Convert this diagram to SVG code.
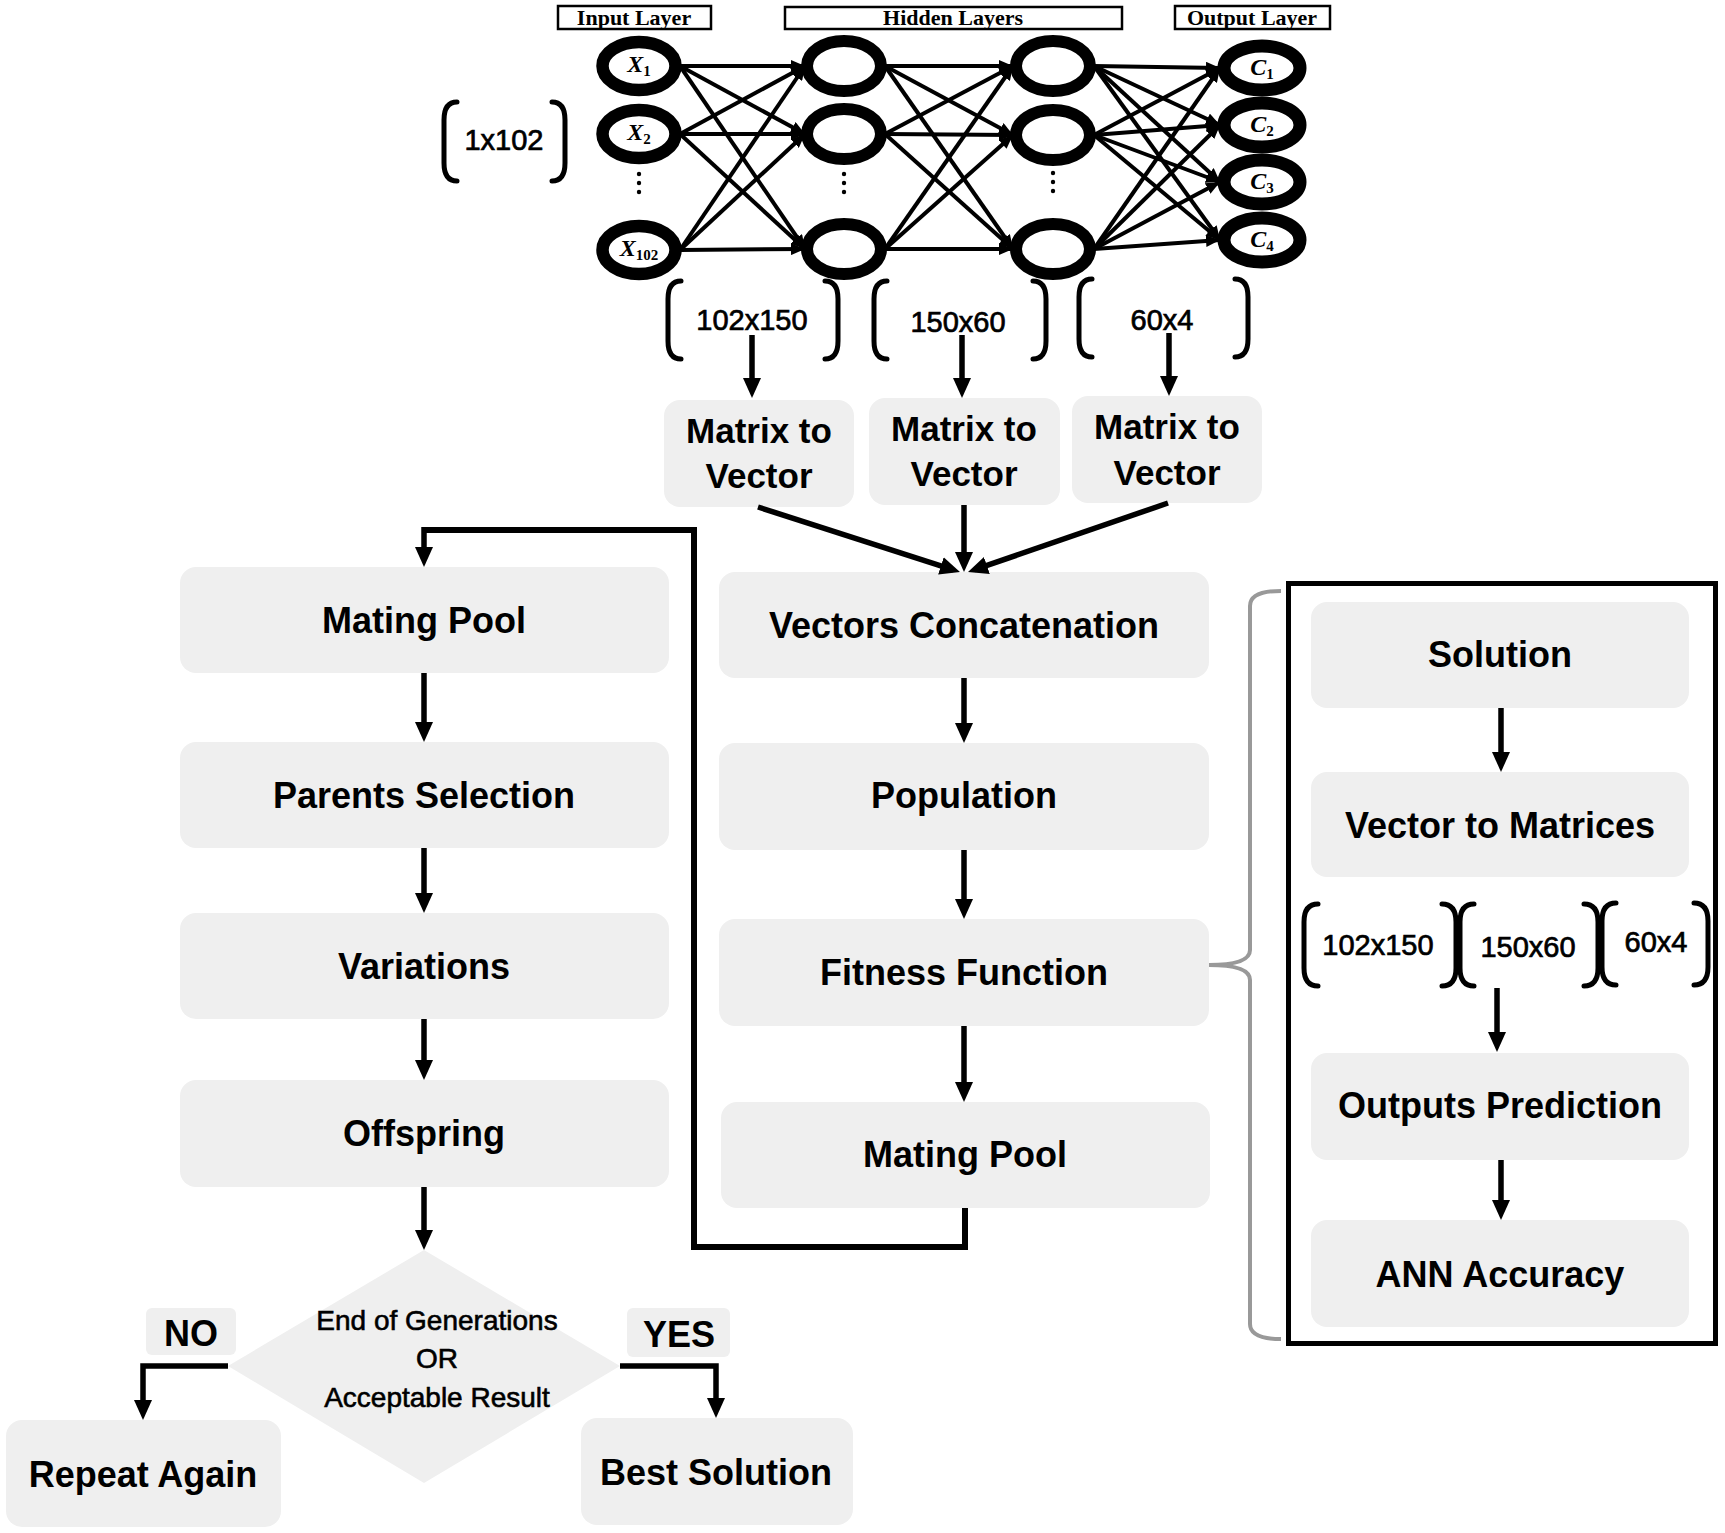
<svg xmlns="http://www.w3.org/2000/svg" width="1725" height="1533" viewBox="0 0 1725 1533">
<style>
.box{fill:#efefef;}
.lbl{font-family:"Liberation Sans",Arial,sans-serif;font-weight:bold;font-size:36px;fill:#000;text-anchor:middle;}
.lbl35{font-family:"Liberation Sans",Arial,sans-serif;font-weight:bold;font-size:35px;fill:#000;text-anchor:middle;}
.dim{font-family:"Liberation Sans",Arial,sans-serif;font-size:29px;fill:#000;stroke:#000;stroke-width:0.7;text-anchor:middle;}
.dia{font-family:"Liberation Sans",Arial,sans-serif;font-size:28px;fill:#000;stroke:#000;stroke-width:0.6;text-anchor:middle;}
.layer{font-family:"Liberation Serif","Times New Roman",serif;font-weight:bold;font-size:22px;fill:#000;text-anchor:middle;}
.lrect{fill:#fff;stroke:#000;stroke-width:2.5;}
.var{font-family:"Liberation Serif","Times New Roman",serif;font-style:italic;font-weight:bold;font-size:24px;fill:#000;text-anchor:middle;}
.sub{font-style:normal;font-size:15px;}
.nin{fill:#fff;stroke:#000;stroke-width:12.5;}
.nhid{fill:#fff;stroke:#000;stroke-width:12;}
.nout{fill:#fff;stroke:#000;stroke-width:13;}
.nn{stroke:#000;stroke-width:4;fill:none;marker-end:url(#sa);}
.flow{stroke:#000;stroke-width:5.5;fill:none;marker-end:url(#ah);}
.loop{stroke:#000;stroke-width:6;fill:none;}
.br{stroke:#000;stroke-width:5;fill:none;stroke-linecap:round;}
.dot{fill:#000;}
</style>
<defs>
<marker id="ah" markerUnits="userSpaceOnUse" markerWidth="20" markerHeight="20" viewBox="0 0 20 20" refX="13" refY="10" orient="auto"><path d="M0,1 L20,10 L0,19 z" fill="#000"/></marker>
<marker id="sa" markerUnits="userSpaceOnUse" markerWidth="14" markerHeight="12" viewBox="0 0 14 12" refX="14" refY="6" orient="auto"><path d="M0,0 L14,6 L0,12 z" fill="#000"/></marker>
</defs>
<rect width="1725" height="1533" fill="#fff"/>

<!-- layer titles -->
<g id="title-input"><rect class="lrect" x="558" y="6" width="153" height="23"/><text class="layer" x="634" y="25">Input Layer</text></g>
<g id="title-hidden"><rect class="lrect" x="785" y="7" width="337" height="22"/><text class="layer" x="953" y="25">Hidden Layers</text></g>
<g id="title-output"><rect class="lrect" x="1175" y="6" width="155" height="23"/><text class="layer" x="1252" y="25">Output Layer</text></g>

<!-- NN connectors -->
<g id="nn-connectors">
<line class="nn" x1="680" y1="66" x2="805" y2="66"/>
<line class="nn" x1="680" y1="66" x2="805" y2="134"/>
<line class="nn" x1="680" y1="66" x2="805" y2="249"/>
<line class="nn" x1="680" y1="134" x2="805" y2="66"/>
<line class="nn" x1="680" y1="134" x2="805" y2="134"/>
<line class="nn" x1="680" y1="134" x2="805" y2="249"/>
<line class="nn" x1="680" y1="250" x2="805" y2="66"/>
<line class="nn" x1="680" y1="250" x2="805" y2="134"/>
<line class="nn" x1="680" y1="250" x2="805" y2="249"/>
<line class="nn" x1="885" y1="66" x2="1013" y2="66"/>
<line class="nn" x1="885" y1="66" x2="1013" y2="135"/>
<line class="nn" x1="885" y1="66" x2="1013" y2="249"/>
<line class="nn" x1="885" y1="134" x2="1013" y2="66"/>
<line class="nn" x1="885" y1="134" x2="1013" y2="135"/>
<line class="nn" x1="885" y1="134" x2="1013" y2="249"/>
<line class="nn" x1="885" y1="249" x2="1013" y2="66"/>
<line class="nn" x1="885" y1="249" x2="1013" y2="135"/>
<line class="nn" x1="885" y1="249" x2="1013" y2="249"/>
<line class="nn" x1="1094" y1="66" x2="1220" y2="68"/>
<line class="nn" x1="1094" y1="66" x2="1220" y2="125"/>
<line class="nn" x1="1094" y1="66" x2="1220" y2="182"/>
<line class="nn" x1="1094" y1="66" x2="1220" y2="240"/>
<line class="nn" x1="1094" y1="135" x2="1220" y2="68"/>
<line class="nn" x1="1094" y1="135" x2="1220" y2="125"/>
<line class="nn" x1="1094" y1="135" x2="1220" y2="182"/>
<line class="nn" x1="1094" y1="135" x2="1220" y2="240"/>
<line class="nn" x1="1094" y1="249" x2="1220" y2="68"/>
<line class="nn" x1="1094" y1="249" x2="1220" y2="125"/>
<line class="nn" x1="1094" y1="249" x2="1220" y2="182"/>
<line class="nn" x1="1094" y1="249" x2="1220" y2="240"/>
</g>

<!-- NN nodes -->
<g id="node-x1"><ellipse class="nin" cx="639" cy="66" rx="36.5" ry="24"/><text class="var" x="639" y="72">X<tspan class="sub" dy="4">1</tspan></text></g>
<g id="node-x2"><ellipse class="nin" cx="639" cy="134" rx="36.5" ry="24"/><text class="var" x="639" y="140">X<tspan class="sub" dy="4">2</tspan></text></g>
<g id="node-x102"><ellipse class="nin" cx="639" cy="250" rx="36.5" ry="24"/><text class="var" x="639" y="256">X<tspan class="sub" dy="4">102</tspan></text></g>
<g id="input-dots"><circle class="dot" cx="639" cy="174" r="2.2"/><circle class="dot" cx="639" cy="183" r="2.2"/><circle class="dot" cx="639" cy="192" r="2.2"/></g>

<g id="node-h1a"><ellipse class="nhid" cx="844" cy="66" rx="37" ry="25"/></g>
<g id="node-h1b"><ellipse class="nhid" cx="844" cy="134" rx="37" ry="25"/></g>
<g id="node-h1c"><ellipse class="nhid" cx="844" cy="249" rx="37" ry="25"/></g>
<g id="h1-dots"><circle class="dot" cx="844" cy="174" r="2.2"/><circle class="dot" cx="844" cy="183" r="2.2"/><circle class="dot" cx="844" cy="192" r="2.2"/></g>

<g id="node-h2a"><ellipse class="nhid" cx="1053" cy="66" rx="37" ry="25"/></g>
<g id="node-h2b"><ellipse class="nhid" cx="1053" cy="135" rx="37" ry="25"/></g>
<g id="node-h2c"><ellipse class="nhid" cx="1053" cy="249" rx="37" ry="25"/></g>
<g id="h2-dots"><circle class="dot" cx="1053" cy="173" r="2.2"/><circle class="dot" cx="1053" cy="182" r="2.2"/><circle class="dot" cx="1053" cy="191" r="2.2"/></g>

<g id="node-c1"><ellipse class="nout" cx="1262" cy="68" rx="38" ry="22"/><text class="var" x="1262" y="75" font-size="21">C<tspan class="sub" font-size="14" dy="4">1</tspan></text></g>
<g id="node-c2"><ellipse class="nout" cx="1262" cy="125" rx="38" ry="22"/><text class="var" x="1262" y="132" font-size="21">C<tspan class="sub" font-size="14" dy="4">2</tspan></text></g>
<g id="node-c3"><ellipse class="nout" cx="1262" cy="182" rx="38" ry="22"/><text class="var" x="1262" y="189" font-size="21">C<tspan class="sub" font-size="14" dy="4">3</tspan></text></g>
<g id="node-c4"><ellipse class="nout" cx="1262" cy="240" rx="38" ry="22"/><text class="var" x="1262" y="247" font-size="21">C<tspan class="sub" font-size="14" dy="4">4</tspan></text></g>

<!-- 1x102 -->
<g id="dim-input">
<path class="br" d="M457,102 Q444,102 444,120 L444,163 Q444,181 457,181"/>
<path class="br" d="M552,102 Q565,102 565,120 L565,163 Q565,181 552,181"/>
<text class="dim" x="504" y="150" font-size="28">1x102</text>
</g>

<!-- weight matrices -->
<g id="dim-w1">
<path class="br" d="M681,281 Q668,281 668,299 L668,341 Q668,359 681,359"/>
<path class="br" d="M825,281 Q838,281 838,299 L838,341 Q838,359 825,359"/>
<text class="dim" x="752" y="330">102x150</text>
</g>
<g id="dim-w2">
<path class="br" d="M887,281 Q874,281 874,299 L874,341 Q874,359 887,359"/>
<path class="br" d="M1033,281 Q1046,281 1046,299 L1046,341 Q1046,359 1033,359"/>
<text class="dim" x="958" y="332">150x60</text>
</g>
<g id="dim-w3">
<path class="br" d="M1092,279 Q1079,279 1079,297 L1079,339 Q1079,357 1092,357"/>
<path class="br" d="M1235,279 Q1248,279 1248,297 L1248,339 Q1248,357 1235,357"/>
<text class="dim" x="1162" y="330">60x4</text>
</g>

<!-- Matrix to Vector -->
<g id="m2v-1"><rect class="box" x="664" y="400" width="190" height="107" rx="16"/><text class="lbl35" x="759" y="443">Matrix to</text><text class="lbl35" x="759" y="488">Vector</text></g>
<g id="m2v-2"><rect class="box" x="869" y="398" width="191" height="107" rx="16"/><text class="lbl35" x="964" y="441">Matrix to</text><text class="lbl35" x="964" y="486">Vector</text></g>
<g id="m2v-3"><rect class="box" x="1072" y="396" width="190" height="107" rx="16"/><text class="lbl35" x="1167" y="439">Matrix to</text><text class="lbl35" x="1167" y="485">Vector</text></g>

<!-- center column -->
<g id="vectors-concat"><rect class="box" x="719" y="572" width="490" height="106" rx="16"/><text class="lbl" x="964" y="638">Vectors Concatenation</text></g>
<g id="population"><rect class="box" x="719" y="743" width="490" height="107" rx="16"/><text class="lbl" x="964" y="808">Population</text></g>
<g id="fitness"><rect class="box" x="719" y="919" width="490" height="107" rx="16"/><text class="lbl" x="964" y="985">Fitness Function</text></g>
<g id="mating-pool-2"><rect class="box" x="721" y="1102" width="489" height="106" rx="16"/><text class="lbl" x="965" y="1167">Mating Pool</text></g>

<!-- left column -->
<g id="mating-pool-1"><rect class="box" x="180" y="567" width="489" height="106" rx="16"/><text class="lbl" x="424" y="633">Mating Pool</text></g>
<g id="parents"><rect class="box" x="180" y="742" width="489" height="106" rx="16"/><text class="lbl" x="424" y="808">Parents Selection</text></g>
<g id="variations"><rect class="box" x="180" y="913" width="489" height="106" rx="16"/><text class="lbl" x="424" y="979">Variations</text></g>
<g id="offspring"><rect class="box" x="180" y="1080" width="489" height="107" rx="16"/><text class="lbl" x="424" y="1146">Offspring</text></g>

<!-- decision -->
<g id="decision"><path class="box" d="M424,1250 L620,1366 L424,1483 L228,1366 z"/>
<text class="dia" x="437" y="1330">End of Generations</text>
<text class="dia" x="437" y="1368">OR</text>
<text class="dia" x="437" y="1407">Acceptable Result</text></g>
<g id="label-no"><rect class="box" x="146" y="1308" width="90" height="47" rx="6"/><text class="lbl" x="191" y="1346">NO</text></g>
<g id="label-yes"><rect class="box" x="627" y="1308" width="103" height="49" rx="6"/><text class="lbl" x="679" y="1347">YES</text></g>
<g id="repeat"><rect class="box" x="6" y="1420" width="275" height="107" rx="16"/><text class="lbl" x="143" y="1487">Repeat Again</text></g>
<g id="best"><rect class="box" x="581" y="1418" width="272" height="107" rx="16"/><text class="lbl" x="716" y="1485">Best Solution</text></g>

<!-- right panel -->
<g id="fitness-panel">
<rect x="1288.5" y="583.5" width="427" height="760" fill="none" stroke="#000" stroke-width="5"/>
<path d="M1281,591 Q1250,591 1250,606 L1250,950 Q1250,965 1209,965 Q1250,965 1250,980 L1250,1324 Q1250,1339 1281,1339" fill="none" stroke="#999" stroke-width="4"/>
</g>
<g id="solution"><rect class="box" x="1311" y="602" width="378" height="106" rx="16"/><text class="lbl" x="1500" y="667">Solution</text></g>
<g id="vec2mat"><rect class="box" x="1311" y="772" width="378" height="105" rx="16"/><text class="lbl" x="1500" y="838">Vector to Matrices</text></g>
<g id="panel-dims">
<path class="br" d="M1318,904 Q1304,904 1304,922 L1304,968 Q1304,986 1318,986"/>
<path class="br" d="M1442,904 Q1456,904 1456,922 L1456,968 Q1456,986 1442,986"/>
<text class="dim" x="1378" y="955">102x150</text>
<path class="br" d="M1474,904 Q1460,904 1460,922 L1460,968 Q1460,986 1474,986"/>
<path class="br" d="M1584,904 Q1598,904 1598,922 L1598,968 Q1598,986 1584,986"/>
<text class="dim" x="1528" y="957">150x60</text>
<path class="br" d="M1616,903 Q1602,903 1602,921 L1602,967 Q1602,985 1616,985"/>
<path class="br" d="M1694,903 Q1708,903 1708,921 L1708,967 Q1708,985 1694,985"/>
<text class="dim" x="1656" y="952">60x4</text>
</g>
<g id="outputs-pred"><rect class="box" x="1311" y="1053" width="378" height="107" rx="16"/><text class="lbl" x="1500" y="1118">Outputs Prediction</text></g>
<g id="ann-acc"><rect class="box" x="1311" y="1220" width="378" height="107" rx="16"/><text class="lbl" x="1500" y="1287">ANN Accuracy</text></g>

<!-- connectors -->
<g id="connectors">
<line class="flow" x1="752" y1="335" x2="752" y2="391"/>
<line class="flow" x1="962" y1="335" x2="962" y2="391"/>
<line class="flow" x1="1169" y1="333" x2="1169" y2="389"/>
<line class="flow" x1="758" y1="507" x2="953.3" y2="569.9"/>
<line class="flow" x1="964" y1="505" x2="964" y2="565"/>
<line class="flow" x1="1168" y1="503" x2="974.6" y2="569.7"/>
<line class="flow" x1="964" y1="678" x2="964" y2="736"/>
<line class="flow" x1="964" y1="850" x2="964" y2="912"/>
<line class="flow" x1="964" y1="1026" x2="964" y2="1095"/>
<path class="loop" d="M965,1208 V1247 H694 V530 H424"/>
<line class="flow" x1="424" y1="527" x2="424" y2="560"/>
<line class="flow" x1="424" y1="673" x2="424" y2="735"/>
<line class="flow" x1="424" y1="848" x2="424" y2="906"/>
<line class="flow" x1="424" y1="1019" x2="424" y2="1073"/>
<line class="flow" x1="424" y1="1187" x2="424" y2="1243"/>
<path class="flow" d="M228,1366 H143 V1413"/>
<path class="flow" d="M620,1366 H716 V1411"/>
<line class="flow" x1="1501" y1="708" x2="1501" y2="765"/>
<line class="flow" x1="1497" y1="988" x2="1497" y2="1045"/>
<line class="flow" x1="1501" y1="1160" x2="1501" y2="1213"/>
</g>
</svg>
